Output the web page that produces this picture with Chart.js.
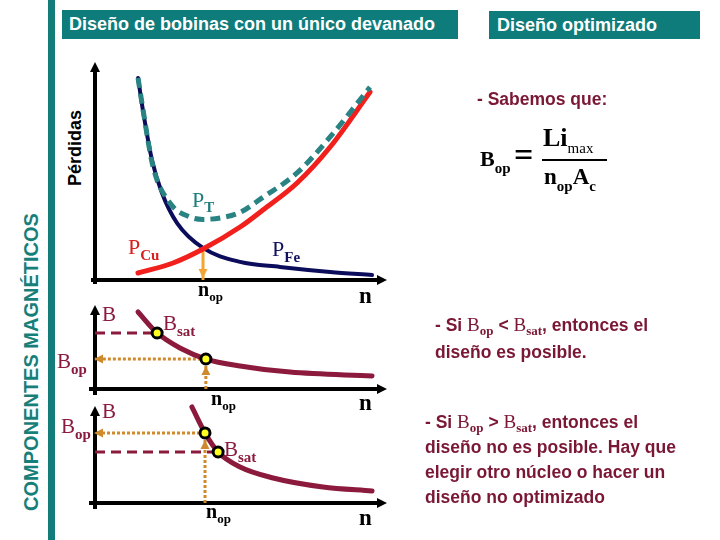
<!DOCTYPE html>
<html><head><meta charset="utf-8">
<script src="https://cdn.jsdelivr.net/npm/chart.js@4.4.0/dist/chart.umd.min.js"></script>
<style>
body{margin:0;background:#fff}
#slide{position:relative;width:720px;height:540px;overflow:hidden;background:#fff}
.abs{position:absolute;white-space:nowrap;line-height:1}
.serif{font-family:'Liberation Serif','Times New Roman',serif}
.sans{font-family:'Liberation Sans',Arial,sans-serif}
canvas{position:absolute;left:0;top:0}
.sub{position:relative;font-weight:bold}
.title{position:absolute;background:#0E7C7B;color:#fff;font:bold 18px 'Liberation Sans',Arial,sans-serif;line-height:29px;box-sizing:border-box;padding-left:7px;white-space:nowrap}
.mar{color:#8A1A3E}
.rt{font-size:17.5px;font-weight:bold;color:#7A1735}
.rt .serif{font-weight:normal;font-size:19px}
.rt .s{font-family:'Liberation Serif',serif;font-weight:bold;font-size:13px;position:relative;top:4px}
</style></head>
<body><div id="slide">
<div class="abs" style="left:48px;top:0;width:7px;height:540px;background:#127C78"></div>
<div class="title" style="left:62px;top:10px;width:396px;height:29px">Diseño de bobinas con un único devanado</div>
<div class="title" style="left:489px;top:11px;width:211px;height:28px;padding-left:8px">Diseño optimizado</div>
<div class="abs sans" style="left:-129px;top:350px;width:320px;height:24px;line-height:24px;text-align:center;transform:rotate(-90deg);font-size:20px;font-weight:bold;color:#177F7A">COMPONENTES MAGNÉTICOS</div>
<div class="abs sans" style="left:25px;top:137px;width:100px;height:22px;line-height:22px;text-align:center;transform:rotate(-90deg);font-size:18px;font-weight:bold;color:#000">Pérdidas</div>

<canvas id="c1" width="720" height="540"></canvas>
<canvas id="c2" width="720" height="540"></canvas>
<canvas id="c3" width="720" height="540"></canvas>

<!-- top chart labels -->
<div class="abs serif" style="left:192px;top:189px;font-size:22px;color:#217E7E">P<span class="sub" style="font-size:15px;top:5px">T</span></div>
<div class="abs serif" style="left:128px;top:236px;font-size:22px;color:#D9201E">P<span class="sub" style="font-size:15px;top:6px">Cu</span></div>
<div class="abs serif" style="left:272px;top:238px;font-size:22px;color:#111160">P<span class="sub" style="font-size:15px;top:6px">Fe</span></div>
<div class="abs serif" style="left:198px;top:279px;font-size:20px;font-weight:bold">n<span class="sub" style="font-size:13px;top:5px">op</span></div>
<div class="abs serif" style="left:359px;top:284px;font-size:23px;font-weight:bold">n</div>

<!-- middle chart labels -->
<div class="abs serif mar" style="left:102px;top:304px;font-size:21px">B</div>
<div class="abs serif mar" style="left:163px;top:313px;font-size:21px">B<span class="sub" style="font-size:15px;top:6px">sat</span></div>
<div class="abs serif mar" style="left:57px;top:351px;font-size:21px">B<span class="sub" style="font-size:15px;top:6px">op</span></div>
<div class="abs serif" style="left:211px;top:388px;font-size:20px;font-weight:bold">n<span class="sub" style="font-size:13px;top:5px">op</span></div>
<div class="abs serif" style="left:359px;top:391px;font-size:23px;font-weight:bold">n</div>

<!-- bottom chart labels -->
<div class="abs serif mar" style="left:102px;top:401px;font-size:21px">B</div>
<div class="abs serif mar" style="left:224px;top:439px;font-size:21px">B<span class="sub" style="font-size:15px;top:6px">sat</span></div>
<div class="abs serif mar" style="left:61px;top:416px;font-size:21px">B<span class="sub" style="font-size:15px;top:6px">op</span></div>
<div class="abs serif" style="left:206px;top:501px;font-size:20px;font-weight:bold">n<span class="sub" style="font-size:13px;top:5px">op</span></div>
<div class="abs serif" style="left:359px;top:506px;font-size:23px;font-weight:bold">n</div>

<!-- right side -->
<div class="abs sans rt" style="left:477px;top:91px">- Sabemos que:</div>
<div class="abs serif" style="left:480px;top:148px;font-size:22px;font-weight:bold">B<span class="sub" style="font-size:15px;top:7px">op</span></div>
<div class="abs serif" style="left:514px;top:138px;font-size:34px;font-weight:bold">=</div>
<div class="abs" style="left:542px;top:159px;width:65px;height:2px;background:#000"></div>
<div class="abs serif" style="left:543px;top:125px;font-size:26px;font-weight:bold">Li<span style="font-size:15px;font-weight:normal;position:relative;top:7px">max</span></div>
<div class="abs serif" style="left:544px;top:165px;font-size:23px;font-weight:bold">n<span class="sub" style="font-size:15px;top:7px">op</span>A<span class="sub" style="font-size:15px;top:7px">c</span></div>

<div class="abs sans rt" style="left:435px;top:315px">- Si <span class="serif">B<span class="s">op</span></span> &lt; <span class="serif">B<span class="s">sat</span></span>, entonces el</div>
<div class="abs sans rt" style="left:435px;top:344px">diseño es posible.</div>

<div class="abs sans rt" style="left:425px;top:412px">- Si <span class="serif">B<span class="s">op</span></span> &gt; <span class="serif">B<span class="s">sat</span></span>, entonces el</div>
<div class="abs sans rt" style="left:425px;top:439px">diseño no es posible. Hay que</div>
<div class="abs sans rt" style="left:425px;top:464px">elegir otro núcleo o hacer un</div>
<div class="abs sans rt" style="left:425px;top:489px">diseño no optimizado</div>
</div>

<script>
// ---- data: losses vs number of turns (top chart) ----
const nPFe   = [1.51, 1.68, 2.00, 2.35, 2.88, 3.79, 5.09, 6.49, 8.25, 9.72];
const valPFe = [9.27, 7.80, 5.50, 3.99, 2.61, 1.47, 0.83, 0.60, 0.37, 0.23];
const nPCu   = [1.51, 2.74, 3.79, 5.09, 5.89, 7.09, 8.25, 9.65];
const valPCu = [0.32, 0.78, 1.42, 2.43, 3.21, 4.45, 6.10, 8.62];
const nPT    = [1.51, 1.68, 2.04, 2.63, 3.33, 3.79, 4.49, 5.09, 5.89, 7.09, 8.25, 9.65];
const valPT  = [9.27, 7.85, 5.18, 3.53, 2.89, 2.78, 2.87, 3.10, 3.79, 4.91, 6.56, 8.85];
const nOp = 3.79, lossOp = 1.45;

// ---- data: B vs n, design possible (middle chart) ----
const nB1   = [1.51, 2.18, 2.98, 3.89, 5.09, 6.84, 9.72];
const valB1 = [9.17, 6.67, 4.88, 3.57, 2.74, 2.02, 1.55];
const sat1 = {n: 2.18, B: 6.67};
const op1  = {n: 3.89, B: 3.57};

// ---- data: B vs n, design not possible (bottom chart) ----
const nB2   = [3.40, 3.86, 4.32, 5.09, 6.25, 8.00, 9.72];
const valB2 = [9.90, 7.22, 5.26, 3.71, 2.58, 1.65, 1.24];
const sat2 = {n: 4.32, B: 5.26};
const op2  = {n: 3.86, B: 7.22};

const pts = (xs, ys) => xs.map((x, i) => ({x, y: ys[i]}));

function tri(ctx, x, y, ang, L, w) {
  const c = Math.cos(ang), s = Math.sin(ang);
  ctx.beginPath();
  ctx.moveTo(x, y);
  ctx.lineTo(x - L * c - w * s, y - L * s + w * c);
  ctx.lineTo(x - L * c + w * s, y - L * s - w * c);
  ctx.closePath();
  ctx.fill();
}

const axesArrows = {
  id: 'axesArrows',
  beforeDatasetsDraw(chart, args, o) {
    const ctx = chart.ctx, a = chart.chartArea;
    ctx.save();
    ctx.strokeStyle = '#000'; ctx.fillStyle = '#000'; ctx.lineWidth = o.w;
    ctx.setLineDash([]);
    ctx.beginPath();
    ctx.moveTo(a.left - o.over, a.bottom);
    ctx.lineTo(a.right + o.ext - 6, a.bottom);
    ctx.stroke();
    tri(ctx, a.right + o.ext, a.bottom, 0, 10, 5);
    ctx.beginPath();
    ctx.moveTo(a.left, a.bottom + o.over);
    ctx.lineTo(a.left, a.top + 6);
    ctx.stroke();
    tri(ctx, a.left, a.top, -Math.PI / 2, 10, 5);
    ctx.restore();
  },
  afterDatasetsDraw(chart) {
    const ctx = chart.ctx;
    chart.data.datasets.forEach((ds, i) => {
      if (!ds.arrowEnd) return;
      const p = chart.getDatasetMeta(i).data;
      const p1 = p[p.length - 2], p2 = p[p.length - 1];
      const ang = Math.atan2(p2.y - p1.y, p2.x - p1.x);
      const g = ds.arrowGap || 0;
      ctx.save();
      ctx.fillStyle = ds.borderColor;
      tri(ctx, p2.x - g * Math.cos(ang), p2.y - g * Math.sin(ang), ang, 9, 4.5);
      ctx.restore();
    });
  }
};

function baseOptions(pad, axisW, over) {
  return {
    responsive: false, animation: false, devicePixelRatio: 1,
    layout: {padding: pad},
    scales: {
      x: {type: 'linear', min: 0, max: 10, display: false},
      y: {type: 'linear', min: 0, max: 10, display: false}
    },
    plugins: {
      legend: {display: false}, tooltip: {enabled: false},
      axesArrows: {w: axisW, over: over, ext: 7}
    },
    elements: {point: {radius: 0}}
  };
}

const curve = (data, color, w, extra) => Object.assign({
  data, showLine: true, borderColor: color, borderWidth: w, pointRadius: 0,
  cubicInterpolationMode: 'monotone', fill: false, clip: false, borderCapStyle: 'round'
}, extra || {});
const guide = (data, color, w, dash, extra) => Object.assign({
  data, showLine: true, borderColor: color, borderWidth: w, borderDash: dash,
  pointRadius: 0, tension: 0, fill: false, clip: false, borderCapStyle: 'butt'
}, extra || {});
const marker = (p) => ({
  data: [{x: p.n, y: p.B}], showLine: false, pointRadius: 5, pointBorderWidth: 3,
  pointBackgroundColor: '#FFFF22', pointBorderColor: '#000', clip: false, order: 0
});

const ORANGE = '#D08A2E', MAROON = '#8B1A3C';

new Chart(document.getElementById('c1'), {
  type: 'scatter',
  data: {datasets: [
    curve(pts(nPT, valPT), '#2A8383', 5, {borderDash: [10, 6], borderCapStyle: 'butt', order: 1}),
    curve(pts(nPCu, valPCu), '#F2201C', 5, {order: 2}),
    curve(pts(nPFe, valPFe), '#0C0C5C', 4, {order: 3}),
    guide([{x: nOp, y: lossOp}, {x: nOp, y: 0}], '#F2A534', 3, [], {order: 4, arrowEnd: true, arrowGap: 2})
  ]},
  options: baseOptions({left: 95, top: 62, right: 340, bottom: 260}, 4, 4),
  plugins: [axesArrows]
});

new Chart(document.getElementById('c2'), {
  type: 'scatter',
  data: {datasets: [
    marker(sat1), marker(op1),
    curve(pts(nB1, valB1), MAROON, 5, {order: 2}),
    guide([{x: 0, y: sat1.B}, {x: sat1.n, y: sat1.B}], MAROON, 3, [10, 6], {order: 3}),
    guide([{x: op1.n, y: op1.B}, {x: 0, y: op1.B}], ORANGE, 3, [3, 2], {order: 3, arrowEnd: true, arrowGap: -1}),
    guide([{x: op1.n, y: 0}, {x: op1.n, y: op1.B}], ORANGE, 3, [3, 2], {order: 3, arrowEnd: true, arrowGap: 7})
  ]},
  options: baseOptions({left: 95, top: 305, right: 340, bottom: 151}, 4, 6),
  plugins: [axesArrows]
});

new Chart(document.getElementById('c3'), {
  type: 'scatter',
  data: {datasets: [
    marker(op2), marker(sat2),
    curve(pts(nB2, valB2), MAROON, 5, {order: 2}),
    guide([{x: 0, y: sat2.B}, {x: sat2.n, y: sat2.B}], MAROON, 3, [10, 6], {order: 3}),
    guide([{x: op2.n, y: op2.B}, {x: 0, y: op2.B}], ORANGE, 3, [3, 2], {order: 3, arrowEnd: true, arrowGap: -1}),
    guide([{x: op2.n, y: 0}, {x: op2.n, y: op2.B}], ORANGE, 3, [3, 2], {order: 3, arrowEnd: true, arrowGap: 7})
  ]},
  options: baseOptions({left: 95, top: 406, right: 340, bottom: 37}, 4, 6),
  plugins: [axesArrows]
});
</script>
</body></html>
